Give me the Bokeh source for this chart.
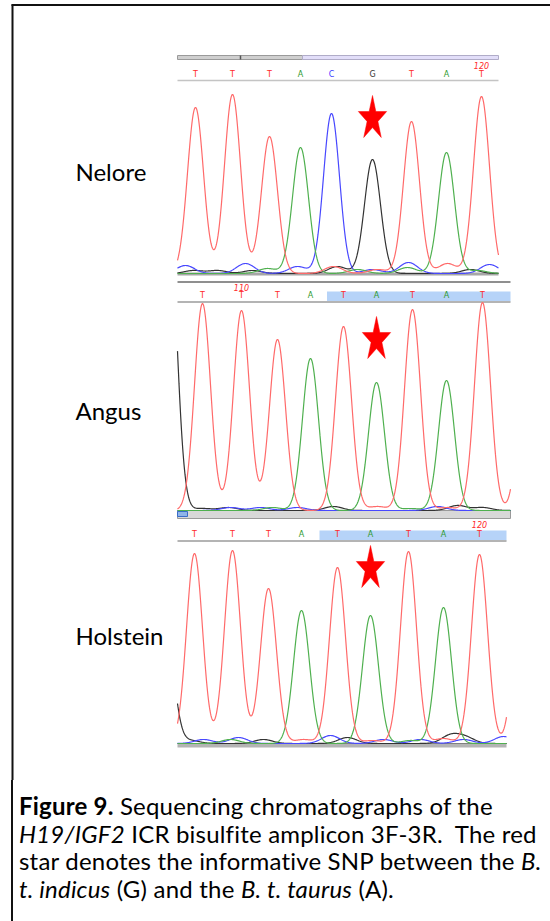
import numpy as np
from bokeh.plotting import figure
from bokeh.models import Range1d, Div
from bokeh.layouts import column
from bokeh.core.properties import value
from bokeh.embed import file_html
from bokeh.resources import INLINE

# ---------------- data ----------------
breeds = ["Nelore", "Angus", "Holstein"]

nelore_bases = ["T", "T", "T", "A", "C", "G", "T", "A", "T"]
nelore_scans = [18, 55, 92, 123, 154, 195, 234, 269, 304]
nelore_heights = [166, 179, 137, 126, 160, 114, 152, 121, 177]

angus_bases = ["T", "T", "T", "A", "T", "A", "T", "A", "T"]
angus_scans = [25, 64, 100, 133, 166, 199, 235, 269, 305]
angus_heights = [207, 200, 171, 152, 184, 128, 201, 130, 208]

holstein_bases = ["T", "T", "T", "A", "T", "A", "T", "A", "T"]
holstein_scans = [17, 55, 91, 124, 160, 193, 231, 266, 302]
holstein_heights = [190, 193, 155, 133, 176, 128, 192, 136, 189]

# peaks just outside the visible window (base, scan, height)
nelore_flank = []
angus_flank = [("G", -9, 300), ("T", 350, 200)]
holstein_flank = [("G", -12, 120), ("T", 345, 190)]

# low background signal (base, scan, height)
nelore_noise = [("C", 8, 8), ("C", 68, 10), ("C", 120, 7), ("C", 195, 4), ("C", 231, 11), ("C", 312, 9),
                ("G", 16, 3), ("G", 40, 3), ("G", 75, 3), ("G", 160, 7), ("G", 293, 4),
                ("T", 156, 7), ("T", 200, 4), ("T", 270, 10),
                ("A", 90, 5), ("A", 180, 4), ("A", 230, 6), ("A", 300, 3)]
angus_noise = [("G", 25, 2), ("G", 51, 3), ("G", 156, 4), ("G", 280, 5), ("G", 305, 3),
               ("C", 53, 3), ("C", 83, 3), ("C", 120, 3), ("C", 260, 4),
               ("A", 95, 3), ("A", 233, 2),
               ("T", 200, 4), ("T", 270, 3)]
holstein_noise = [("C", 26, 4), ("C", 61, 6), ("C", 153, 8), ("C", 206, 4), ("C", 243, 4), ("C", 286, 4), ("C", 326, 7),
                  ("G", 13, 3), ("G", 86, 4), ("G", 170, 6), ("G", 273, 8), ("G", 288, 6),
                  ("A", 53, 4), ("A", 233, 3),
                  ("T", 126, 4), ("T", 195, 3), ("T", 266, 5)]

snp_index = [5, 5, 5]
mark_text = ["120", "110", "120"]
mark_index = [8, 1, 8]
highlight_from = [None, 4, 4]

caption_html = ('<b>Figure 9.</b> Sequencing chromatographs of the<br>'
                '<i>H19/IGF2</i> ICR bisulfite amplicon 3F-3R.&nbsp; The red<br>'
                'star denotes the informative SNP between the <i>B.</i><br>'
                '<i>t. indicus</i> (G) and the <i>B. t. taurus</i> (A).')

# ---------------- layout / style ----------------
W = 550
TOP = 0
LEFT = 0
FIG_BOTTOM = 780
PAGE_BOTTOM = 921
trace_col = {"T": "#ff6a6a", "A": "#4fb04f", "C": "#4848ff", "G": "#333333"}
call_col = {"T": "#ff2a2a", "A": "#2f9a2f", "C": "#3a3aff", "G": "#333333"}
SIG = 8.0
NSIG = 9.0

panels = [
    dict(bases=nelore_bases, scans=nelore_scans, heights=nelore_heights, flank=nelore_flank, noise=nelore_noise,
         x0=177, x1=498, base_y=273, call_y=74, mark_y=65, star_top=95, label_y=171),
    dict(bases=angus_bases, scans=angus_scans, heights=angus_heights, flank=angus_flank, noise=angus_noise,
         x0=177, x1=510, base_y=510, call_y=295, mark_y=287, star_top=316, label_y=410),
    dict(bases=holstein_bases, scans=holstein_scans, heights=holstein_heights, flank=holstein_flank, noise=holstein_noise,
         x0=177, x1=506, base_y=743, call_y=534, mark_y=524, star_top=545, label_y=635),
]

p = figure(width=W, height=FIG_BOTTOM - TOP, x_range=Range1d(LEFT, LEFT + W), y_range=Range1d(FIG_BOTTOM, TOP),
           output_backend="svg", toolbar_location=None, x_axis_location=None, y_axis_location=None,
           min_border=0, min_border_left=0, min_border_right=0, min_border_top=0, min_border_bottom=0)
p.grid.visible = False
p.outline_line_color = None
p.background_fill_color = "white"

# outer box
p.segment(x0=[12], y0=[4], x1=[12], y1=[FIG_BOTTOM], line_color="#111111", line_width=2)
p.segment(x0=[11], y0=[4.5], x1=[LEFT + W], y1=[4.5], line_color="#111111", line_width=2)

# static decorations of the chromatogram windows
# Nelore top scroll bar
p.quad(left=[177], right=[302], top=[55], bottom=[59], fill_color="#cfcfcf", line_color="#9a9a9a", line_width=1)
p.segment(x0=[240], y0=[55], x1=[240], y1=[59], line_color="#555555", line_width=1.5)
p.quad(left=[302], right=[498], top=[55], bottom=[59], fill_color="#e2def9", line_color="#b0acc8", line_width=1)
p.segment(x0=[177], y0=[80], x1=[498], y1=[80], line_color="#c4c4c4", line_width=1.5)
p.quad(left=[177], right=[498], top=[272], bottom=[275], fill_color="#a6a6a6", line_color=None)
# Angus header and bottom scroll bar
p.segment(x0=[177], y0=[281.5], x1=[510], y1=[281.5], line_color="#6a6a6a", line_width=1.5)
p.quad(left=[177], right=[510], top=[510], bottom=[518], fill_color="#d8d8d8", line_color="#9a9a9a", line_width=1)
p.quad(left=[177], right=[187], top=[511], bottom=[516], fill_color="#8fb4e8", line_color="#3a6cc8", line_width=1)
# Holstein bottom bar
p.quad(left=[177], right=[506], top=[743], bottom=[747], fill_color="#b4b4b4", line_color=None)
p.segment(x0=[177], y0=[743], x1=[506], y1=[743], line_color="#808080", line_width=1)


def star_xy(cx, top, rx=14.9, ry=23.2):
    cy = top + ry
    ang = np.deg2rad(90 + 36 * np.arange(10))
    rad = np.where(np.arange(10) % 2 == 0, 1.0, 0.382)
    return cx + rx * rad * np.cos(ang), cy - ry * rad * np.sin(ang)


for i, pn in enumerate(panels):
    xn, yn = f"x{i}", f"y{i}"
    x0, x1, by = pn["x0"], pn["x1"], pn["base_y"]
    p.extra_x_ranges[xn] = Range1d(LEFT - x0, LEFT + W - x0)
    p.extra_y_ranges[yn] = Range1d(by - FIG_BOTTOM, by - TOP)
    scans = pn["scans"]
    bases = pn["bases"]

    # highlighted region of the base-call row
    hf = highlight_from[i]
    if hf is not None:
        left = (scans[hf - 1] + scans[hf]) / 2.0
        p.quad(left=[left], right=[x1 - x0], top=[pn["call_y"] - 4], bottom=[pn["call_y"] + 6],
               fill_color="#b6d3f8", line_color=None, x_range_name=xn)
    if i > 0:
        p.segment(x0=[0], y0=[pn["call_y"] + 6.5], x1=[x1 - x0], y1=[pn["call_y"] + 6.5],
                  line_color="#b4b4b4", line_width=2, x_range_name=xn)

    # traces
    xs = np.arange(0, x1 - x0 + 0.001, 0.5)
    for b in ["G", "C", "A", "T"]:
        ys = np.zeros_like(xs)
        for bb, s, h in zip(bases, scans, pn["heights"]):
            if bb == b:
                ys += h * np.exp(-(xs - s) ** 2 / (2 * SIG ** 2))
        for bb, s, h in pn["flank"]:
            if bb == b:
                ys += h * np.exp(-(xs - s) ** 2 / (2 * SIG ** 2))
        for bb, s, h in pn["noise"]:
            if bb == b:
                ys += h * np.exp(-(xs - s) ** 2 / (2 * NSIG ** 2))
        p.line(xs, ys, line_color=trace_col[b], line_width=1.2, x_range_name=xn, y_range_name=yn)

    # base calls
    p.text(x=scans, y=[pn["call_y"]] * len(scans), text=bases, text_color=[call_col[b] for b in bases],
           text_font=value("DejaVu Sans"), text_font_size="8px", text_align="center", text_baseline="middle",
           x_range_name=xn)
    # position mark
    p.text(x=[scans[mark_index[i]]], y=[pn["mark_y"]], text=[mark_text[i]], text_color="#ff2a2a",
           text_font=value("DejaVu Sans"), text_font_size="8px", text_font_style="italic",
           text_align="center", text_baseline="middle", x_range_name=xn)

    # star marking the SNP
    sx, sy = star_xy(scans[snp_index[i]], pn["star_top"])
    p.patch(sx, sy, fill_color="#ff0000", line_color="#ff0000", line_width=0.5, x_range_name=xn)

    # breed label
    p.text(x=[75], y=[pn["label_y"]], text=[breeds[i]], text_color="#000000", text_font=value("Lato"),
           text_font_size="24px", text_align="left", text_baseline="middle")

cap = Div(text=('<div style="margin-left:11px;border-left:2px solid #111;padding:12px 0 0 6px;'
                'height:%dpx;box-sizing:border-box;font-family:Lato;font-size:24px;line-height:27.5px;'
                'letter-spacing:0.2px;color:#000;white-space:nowrap;">%s</div>') % (PAGE_BOTTOM - FIG_BOTTOM, caption_html),
          width=W, height=PAGE_BOTTOM - FIG_BOTTOM, margin=(0, 0, 0, 0))

layout = column(p, cap, spacing=0)
open("out.html", "w").write(file_html(layout, INLINE))
